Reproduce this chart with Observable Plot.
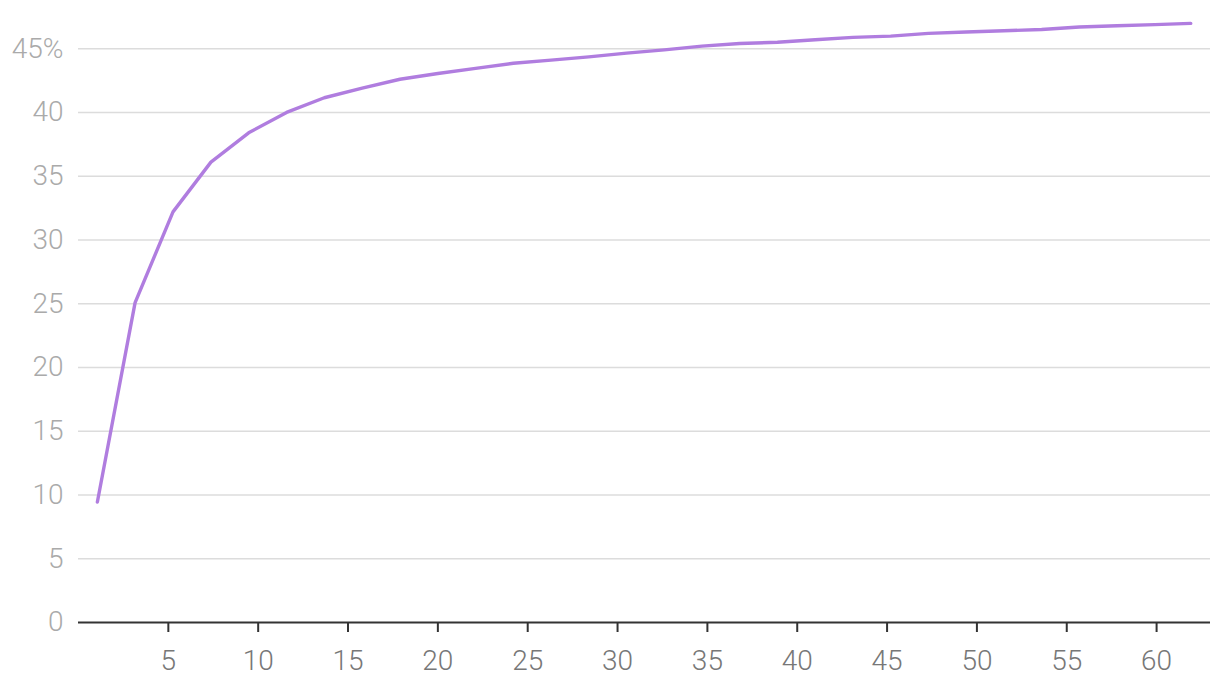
<!DOCTYPE html>
<html>
<head>
<meta charset="utf-8">
<script src="https://cdn.jsdelivr.net/npm/d3@7"></script>
<script src="https://cdn.jsdelivr.net/npm/@observablehq/plot@0.6"></script>
<style>
  html, body { margin: 0; padding: 0; background: #fff; }
  #chart svg { display: block; }
</style>
</head>
<body>
<div id="chart"></div>
<script>
const xValues = [1.05, 3.15, 5.26, 7.37, 9.47, 11.58, 13.68, 15.79, 17.89, 20.0,
                 22.1, 24.2, 26.3, 28.4, 30.5, 32.6, 34.7, 36.8, 38.9, 41.0,
                 43.1, 45.2, 47.3, 49.4, 51.5, 53.6, 55.7, 57.8, 59.9, 61.9];
const yValues = [9.45, 25.08, 32.2, 36.1, 38.4, 40.0, 41.15, 41.9, 42.6, 43.05,
                 43.45, 43.85, 44.1, 44.35, 44.65, 44.9, 45.2, 45.4, 45.5, 45.7,
                 45.88, 45.98, 46.2, 46.3, 46.4, 46.5, 46.7, 46.8, 46.88, 46.98];
const xTicks = [5, 10, 15, 20, 25, 30, 35, 40, 45, 50, 55, 60];
const yTicks = [0, 5, 10, 15, 20, 25, 30, 35, 40, 45];
const gridTicks = [5, 10, 15, 20, 25, 30, 35, 40, 45];

const data = xValues.map((x, i) => ({x, y: yValues[i]}));

const chart = Plot.plot({
  width: 1220,
  height: 690,
  marginLeft: 78,
  marginRight: 10,
  marginTop: 22,
  marginBottom: 68,
  style: {fontFamily: "Roboto, 'Helvetica Neue', Arial, sans-serif", fontSize: "28px", fontWeight: 300, background: "#fff"},
  x: {domain: [0, 63]},
  y: {domain: [0, 47.05]},
  marks: [
    Plot.gridY(gridTicks, {stroke: "#dcdcdc", strokeOpacity: 1, strokeWidth: 1.5}),
    Plot.axisY(yTicks, {tickSize: 0, tickPadding: 15, fill: "#aaaaaa", label: null,
      tickFormat: d => d === 45 ? "45%" : String(d)}),
    Plot.axisX(xTicks, {tickSize: 10, tickPadding: 18, stroke: "#333", strokeWidth: 2, fill: "#777777", label: null}),
    Plot.ruleY([0], {stroke: "#333", strokeWidth: 2}),
    Plot.line(data, {x: "x", y: "y", stroke: "#b07ddf", strokeWidth: 3.4})
  ]
});
document.getElementById("chart").appendChild(chart);
</script>
</body>
</html>
